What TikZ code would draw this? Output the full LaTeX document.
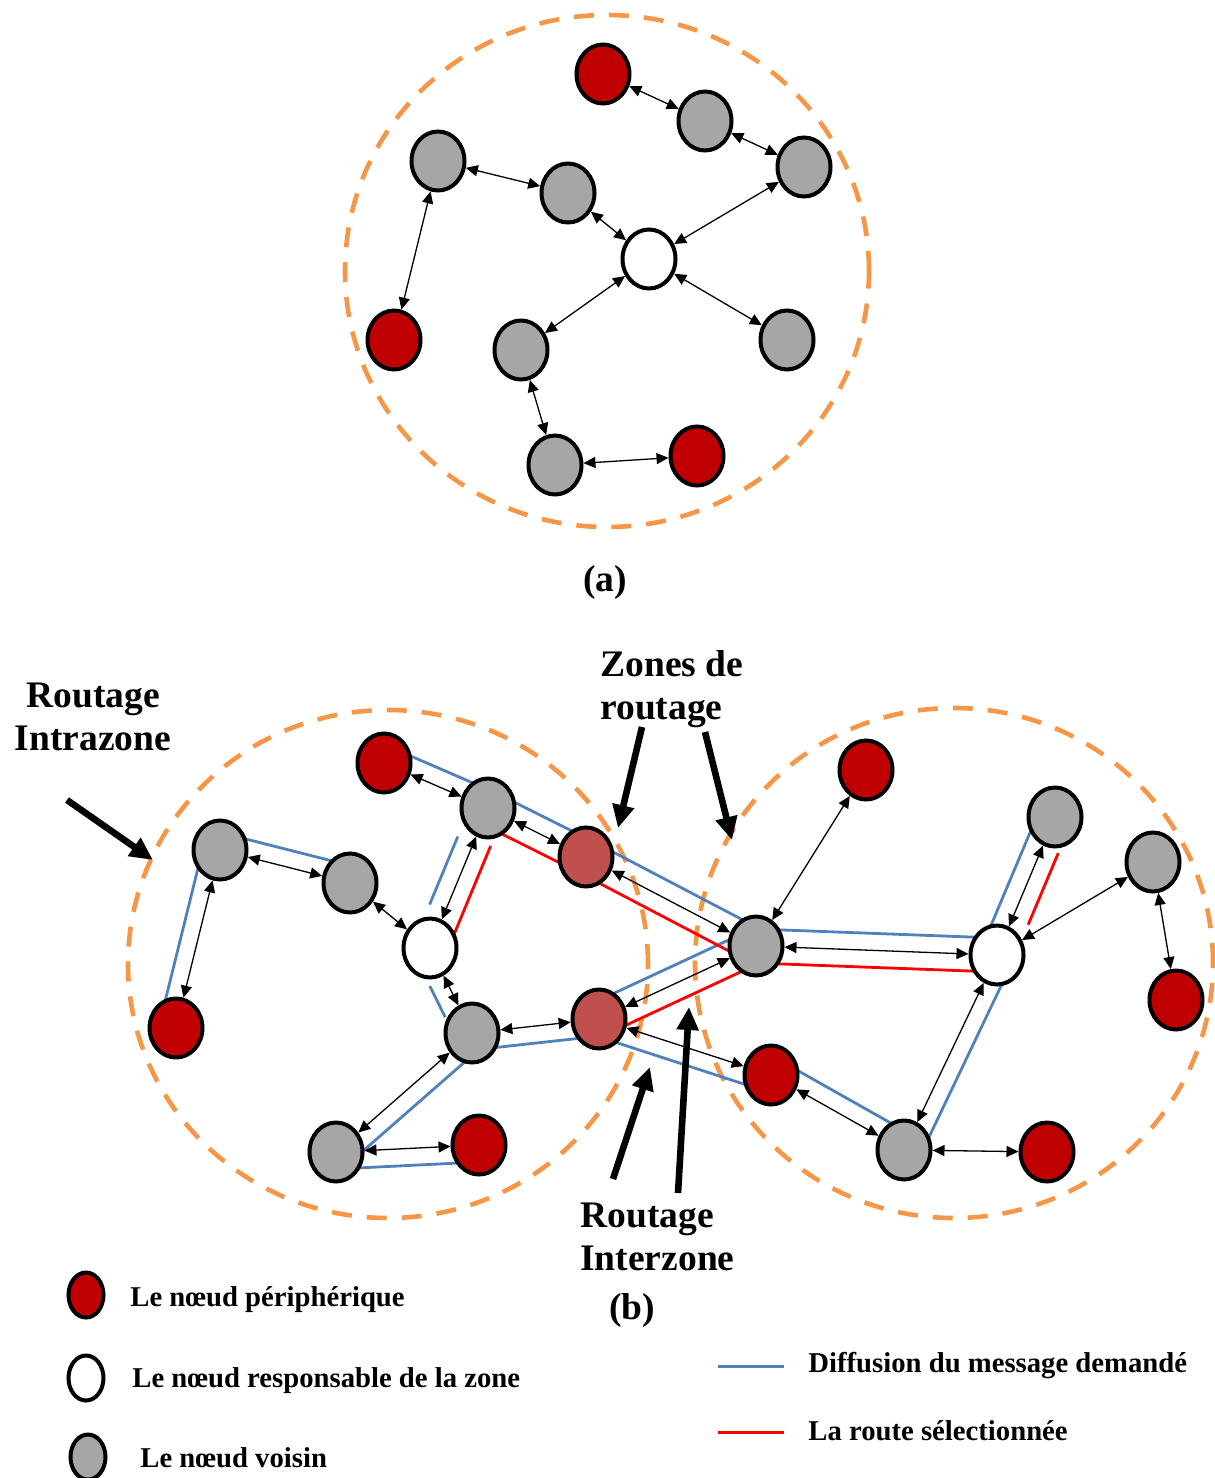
\documentclass[tikz,border=0pt]{standalone}
\usepackage{fontspec}
\setmainfont{Liberation Serif}
\usetikzlibrary{shapes.geometric,arrows.meta,calc,backgrounds}

\definecolor{zoneorange}{HTML}{F79646}
\definecolor{floodblue}{HTML}{4F81BD}
\definecolor{routered}{HTML}{FF0000}
\definecolor{periph}{HTML}{C00000}
\definecolor{border}{HTML}{C0504D}
\definecolor{neigh}{HTML}{A6A6A6}

\tikzset{
  nd/.style={ellipse, draw=black, line width=2pt, minimum width=26.5pt,
             minimum height=29.5pt, inner sep=0pt},
  per/.style={nd, fill=periph},
  vois/.style={nd, fill=neigh},
  resp/.style={nd, fill=white},
  brd/.style={nd, fill=border},
  legnd/.style={nd, minimum width=17.5pt, minimum height=22.5pt},
  lnk/.style={line width=0.65pt,
              {Triangle[length=6pt,width=5.5pt]}-{Triangle[length=6pt,width=5.5pt]}},
  zone/.style={draw=zoneorange, line width=2.3pt, dash pattern=on 10pt off 7.5pt},
  flood/.style={draw=floodblue, line width=1.4pt},
  route/.style={draw=routered, line width=1.4pt},
  bigarrow/.style={line width=3.3pt, -{Triangle[length=11.5pt,width=10.5pt]}},
  title/.style={font=\bfseries\fontsize{18.75}{21.5}\selectfont, inner sep=0pt},
  legtxt/.style={font=\bfseries\fontsize{14.35}{17}\selectfont, inner sep=0pt, anchor=west}
}

% line drawn parallel to a--b, on the left (L) or right (R) of the direction a->b
\newcommand{\sideL}[3]{\draw[#1] ($(#2)!8.5pt!90:(#3)$) -- ($(#3)!8.5pt!-90:(#2)$);}
\newcommand{\sideR}[3]{\draw[#1] ($(#2)!8.5pt!-90:(#3)$) -- ($(#3)!8.5pt!90:(#2)$);}

\begin{document}
\begin{tikzpicture}[x=0.5pt, y=-0.5pt]
\useasboundingbox (0,0) rectangle (1215,1478);

% ---------------- (a) a single routing zone ----------------
\node[per]  (ar1) at (603,74)  {};
\node[vois] (ag1) at (705,121) {};
\node[vois] (ag2) at (804,167) {};
\node[vois] (ag3) at (438,161) {};
\node[vois] (ag4) at (568,193) {};
\node[resp] (aw)  at (649,259) {};
\node[per]  (ar2) at (394,340) {};
\node[vois] (ag5) at (521,350) {};
\node[vois] (ag6) at (787,340) {};
\node[vois] (ag7) at (555,465) {};
\node[per]  (ar3) at (697,456) {};

\begin{scope}[on background layer]
  \draw[zone] (607,271) ellipse [x radius=131pt, y radius=128pt];
\end{scope}

\draw[lnk] (ar1) -- (ag1);
\draw[lnk] (ag1) -- (ag2);
\draw[lnk] (ag2) -- (aw);
\draw[lnk] (ag3) -- (ag4);
\draw[lnk] (ag3) -- (ar2);
\draw[lnk] (ag4) -- (aw);
\draw[lnk] (aw) -- (ag5);
\draw[lnk] (aw) -- (ag6);
\draw[lnk] (ag5) -- (ag7);
\draw[lnk] (ag7) -- (ar3);

\node[title] (capa) at (605,582) {(a)};

% ---------------- (b) two overlapping zones ----------------
% left zone
\node[per]  (lr1) at (384,763)  {};
\node[vois] (lg1) at (488,808)  {};
\node[brd]  (lp1) at (586,857)  {};
\node[vois] (lg2) at (220,850)  {};
\node[vois] (lg3) at (350,883)  {};
\node[resp] (lw)  at (430,948)  {};
\node[per]  (lr2) at (176,1028) {};
\node[vois] (lg4) at (472,1033) {};
\node[brd]  (lp2) at (599,1019) {};
\node[vois] (lg5) at (336,1152) {};
\node[per]  (lr3) at (479,1145) {};
% right zone
\node[per]  (rr1) at (866,770)  {};
\node[vois] (rg1) at (1055,817) {};
\node[vois] (rg2) at (1153,862) {};
\node[vois] (rc)  at (756,946)  {};
\node[resp] (rw)  at (997,955)  {};
\node[per]  (rr2) at (1176,1000) {};
\node[per]  (rr3) at (771,1075) {};
\node[vois] (rg3) at (904,1150) {};
\node[per]  (rr4) at (1047,1152) {};

\begin{scope}[on background layer]
  \draw[zone] (388,964) ellipse [x radius=130pt, y radius=127pt];
  \draw[zone] (954,963) ellipse [x radius=129.5pt, y radius=127.5pt];
  % flooding of the route request
  \sideL{flood}{lr1}{lg1}
  \sideL{flood}{lg1}{lp1}
  \sideL{flood}{lp1}{rc}
  \sideL{flood}{lg2}{lg3}
  \sideR{flood}{lg2}{lr2}
  \sideR{flood, shorten <=19pt, shorten >=20pt}{lg1}{lw}
  \sideR{flood, shorten <=17pt, shorten >=13pt}{lw}{lg4}
  \sideR{flood}{lg4}{lp2}
  \sideL{flood}{lp2}{rc}
  \sideR{flood}{lp2}{rr3}
  \sideL{flood}{lg4}{lg5}
  \sideR{flood}{lg5}{lr3}
  \sideL{flood}{rc}{rw}
  \sideL{flood}{rw}{rg1}
  \sideL{flood}{rr3}{rg3}
  \sideL{flood}{rw}{rg3}
  % selected route
  \sideL{route, shorten <=17pt, shorten >=8pt}{lg1}{lw}
  \sideR{route}{lg1}{lp1}
  \sideR{route}{lp1}{rc}
  \sideR{route}{lp2}{rc}
  \sideR{route}{rc}{rw}
  \sideR{route, shorten <=20pt, shorten >=16pt}{rw}{rg1}
\end{scope}

\draw[lnk] (lr1) -- (lg1);
\draw[lnk] (lg1) -- (lp1);
\draw[lnk] (lg2) -- (lg3);
\draw[lnk] (lg2) -- (lr2);
\draw[lnk] (lg3) -- (lw);
\draw[lnk] (lw) -- (lg1);
\draw[lnk] (lw) -- (lg4);
\draw[lnk] (lg4) -- (lp2);
\draw[lnk] (lg4) -- (lg5);
\draw[lnk] (lg5) -- (lr3);
\draw[lnk] (lp1) -- (rc);
\draw[lnk] (lp2) -- (rc);
\draw[lnk] (lp2) -- (rr3);
\draw[lnk] (rc) -- (rr1);
\draw[lnk] (rc) -- (rw);
\draw[lnk] (rw) -- (rg1);
\draw[lnk] (rw) -- (rg2);
\draw[lnk] (rg2) -- (rr2);
\draw[lnk] (rw) -- (rg3);
\draw[lnk] (rr3) -- (rg3);
\draw[lnk] (rg3) -- (rr4);

% labels and pointers
\node[title, align=center] (intra) at (93,717) {Routage\\Intrazone};
\node[title, align=left, anchor=west] (zones) at (600,689) {Zones de\\routage};
\node[title, align=left, anchor=west] (inter) at (580,1237) {Routage\\Interzone};
\node[title] (capb) at (632,1310) {(b)};

\coordinate (i0) at (67,800);   \coordinate (i1) at (153,860);
\coordinate (z0) at (642,727);  \coordinate (z1) at (618,828);
\coordinate (y0) at (705,732);  \coordinate (y1) at (732,840);
\coordinate (e0) at (613,1179); \coordinate (e1) at (650,1067);
\coordinate (f0) at (678,1193); \coordinate (f1) at (689,1007);
\draw[bigarrow] (i0) -- (i1);
\draw[bigarrow] (z0) -- (z1);
\draw[bigarrow] (y0) -- (y1);
\draw[bigarrow] (e0) -- (e1);
\draw[bigarrow] (f0) -- (f1);

% ---------------- legend ----------------
\node[legnd, fill=periph] (kper) at (86,1295) {};
\node[legnd, fill=white]  (kres) at (86,1378) {};
\node[legnd, fill=neigh]  (kvoi) at (88,1457) {};
\node[legtxt] (tper) at (130,1300) {Le nœud périphérique};
\node[legtxt] (tres) at (132,1381) {Le nœud responsable de la zone};
\node[legtxt] (tvoi) at (140,1458) {Le nœud voisin};

\coordinate (kb0) at (718,1366); \coordinate (kb1) at (784,1366);
\coordinate (kr0) at (718,1432); \coordinate (kr1) at (784,1432);
\draw[flood, line width=1.5pt] (kb0) -- (kb1);
\draw[route, line width=1.5pt] (kr0) -- (kr1);
\node[legtxt] (tflood) at (808,1366) {Diffusion du message demandé};
\node[legtxt] (troute) at (808,1431) {La route sélectionnée};

\end{tikzpicture}
\end{document}
